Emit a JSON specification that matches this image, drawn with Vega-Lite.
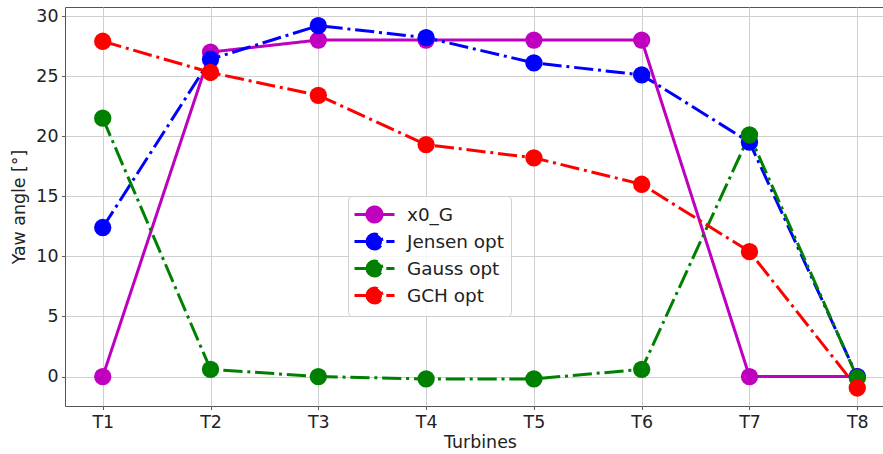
{
  "$schema": "https://vega.github.io/schema/vega-lite/v6.json",
  "width": 830,
  "height": 399,
  "autosize": {"type": "none"},
  "padding": {"left": 65, "top": 7, "right": 0, "bottom": 48},
  "config": {
    "font": "DejaVu Sans",
    "view": {"stroke": "#555", "strokeWidth": 1},
    "axis": {
      "domain": false,
      "grid": true,
      "gridColor": "#cfcfcf",
      "gridWidth": 1,
      "tickColor": "#333",
      "tickSize": 3.5,
      "tickWidth": 0.8,
      "labelFont": "DejaVu Sans",
      "labelFontSize": 17.4,
      "labelColor": "#222",
      "labelPadding": 3.5,
      "titleFont": "DejaVu Sans",
      "titleFontSize": 17.4,
      "titleFontWeight": "normal",
      "titleColor": "#222"
    }
  },
  "data": {
    "values": [
      {"series": "x0_G", "turbine": "T1", "yaw": 0},
      {"series": "x0_G", "turbine": "T2", "yaw": 27.0},
      {"series": "x0_G", "turbine": "T3", "yaw": 28.0},
      {"series": "x0_G", "turbine": "T4", "yaw": 28.0},
      {"series": "x0_G", "turbine": "T5", "yaw": 28.0},
      {"series": "x0_G", "turbine": "T6", "yaw": 28.0},
      {"series": "x0_G", "turbine": "T7", "yaw": 0},
      {"series": "x0_G", "turbine": "T8", "yaw": 0},
      {"series": "Jensen opt", "turbine": "T1", "yaw": 12.4},
      {"series": "Jensen opt", "turbine": "T2", "yaw": 26.4},
      {"series": "Jensen opt", "turbine": "T3", "yaw": 29.2},
      {"series": "Jensen opt", "turbine": "T4", "yaw": 28.2},
      {"series": "Jensen opt", "turbine": "T5", "yaw": 26.1},
      {"series": "Jensen opt", "turbine": "T6", "yaw": 25.1},
      {"series": "Jensen opt", "turbine": "T7", "yaw": 19.5},
      {"series": "Jensen opt", "turbine": "T8", "yaw": 0},
      {"series": "Gauss opt", "turbine": "T1", "yaw": 21.5},
      {"series": "Gauss opt", "turbine": "T2", "yaw": 0.6},
      {"series": "Gauss opt", "turbine": "T3", "yaw": 0},
      {"series": "Gauss opt", "turbine": "T4", "yaw": -0.2},
      {"series": "Gauss opt", "turbine": "T5", "yaw": -0.2},
      {"series": "Gauss opt", "turbine": "T6", "yaw": 0.6},
      {"series": "Gauss opt", "turbine": "T7", "yaw": 20.1},
      {"series": "Gauss opt", "turbine": "T8", "yaw": -0.1},
      {"series": "GCH opt", "turbine": "T1", "yaw": 27.9},
      {"series": "GCH opt", "turbine": "T2", "yaw": 25.3},
      {"series": "GCH opt", "turbine": "T3", "yaw": 23.4},
      {"series": "GCH opt", "turbine": "T4", "yaw": 19.3},
      {"series": "GCH opt", "turbine": "T5", "yaw": 18.2},
      {"series": "GCH opt", "turbine": "T6", "yaw": 16.0},
      {"series": "GCH opt", "turbine": "T7", "yaw": 10.4},
      {"series": "GCH opt", "turbine": "T8", "yaw": -0.95}
    ]
  },
  "mark": {
    "type": "line",
    "strokeWidth": 3,
    "point": {"filled": true, "size": 300, "opacity": 1}
  },
  "encoding": {
    "x": {
      "field": "turbine",
      "type": "ordinal",
      "scale": {"type": "point", "padding": 0.35},
      "axis": {"labelAngle": 0, "title": "Turbines", "titlePadding": 3}
    },
    "y": {
      "field": "yaw",
      "type": "quantitative",
      "scale": {"domain": [-2.45, 30.75], "nice": false, "zero": false},
      "axis": {"values": [0, 5, 10, 15, 20, 25, 30], "title": "Yaw angle [°]", "titlePadding": 7}
    },
    "color": {
      "field": "series",
      "type": "nominal",
      "scale": {
        "domain": ["x0_G", "Jensen opt", "Gauss opt", "GCH opt"],
        "range": ["#bf00bf", "#0000ff", "#008000", "#ff0000"]
      },
      "legend": {
        "orient": "none",
        "legendX": 283,
        "legendY": 189,
        "title": null,
        "symbolType": "M-2,0L2,0M-0.75,0A0.75,0.75,0,1,0,0.75,0A0.75,0.75,0,1,0,-0.75,0Z",
        "symbolSize": 400,
        "symbolStrokeWidth": 3,
        "symbolOffset": 8,
        "labelOffset": 21,
        "labelFont": "DejaVu Sans",
        "labelFontSize": 18.4,
        "labelColor": "#222",
        "rowPadding": 0,
        "padding": 7,
        "strokeColor": "#d0d0d0",
        "fillColor": "rgba(255,255,255,0.8)",
        "cornerRadius": 4,
        "encode": {
          "symbols": {
            "update": {
              "fill": {"scale": "color", "field": "value"},
              "fillOpacity": {"value": 1},
              "opacity": {"value": 1}
            }
          }
        }
      }
    },
    "strokeDash": {
      "field": "series",
      "type": "nominal",
      "scale": {
        "domain": ["x0_G", "Jensen opt", "Gauss opt", "GCH opt"],
        "range": [[1, 0], [19.2, 4.8, 3, 4.8], [19.2, 4.8, 3, 4.8], [19.2, 4.8, 3, 4.8]]
      }
    }
  }
}
